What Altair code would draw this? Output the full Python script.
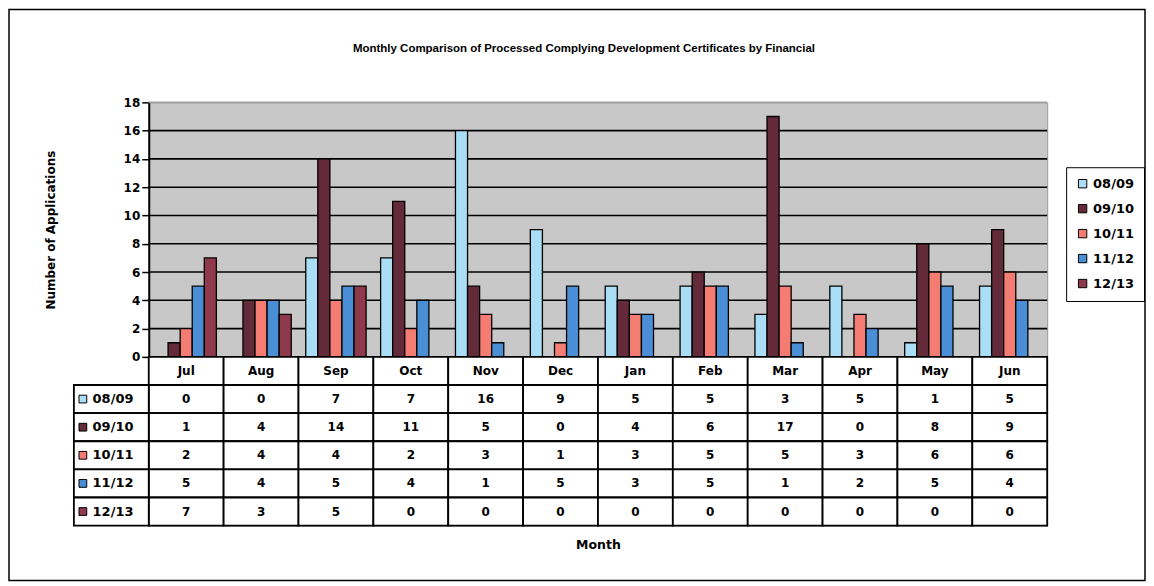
import altair as alt
import pandas as pd

months = ["Jul", "Aug", "Sep", "Oct", "Nov", "Dec", "Jan", "Feb", "Mar", "Apr", "May", "Jun"]
series = ["08/09", "09/10", "10/11", "11/12", "12/13"]
v0809 = [0, 0, 7, 7, 16, 9, 5, 5, 3, 5, 1, 5]
v0910 = [1, 4, 14, 11, 5, 0, 4, 6, 17, 0, 8, 9]
v1011 = [2, 4, 4, 2, 3, 1, 3, 5, 5, 3, 6, 6]
v1112 = [5, 4, 5, 4, 1, 5, 3, 5, 1, 2, 5, 4]
v1213 = [7, 3, 5, 0, 0, 0, 0, 0, 0, 0, 0, 0]
colors = ["#a9def6", "#632a3a", "#f47c72", "#4a8fd6", "#8e3a4c"]
grid_values = [2, 4, 6, 8, 10, 12, 14, 16, 18]
tick_values = [0, 2, 4, 6, 8, 10, 12, 14, 16, 18]

values = {"08/09": v0809, "09/10": v0910, "10/11": v1011, "11/12": v1112, "12/13": v1213}

FONT = "DejaVu Sans"
TITLE_FONT = "Liberation Sans"
LABEL_COL = "Series"

bars = pd.DataFrame([
    {"col": m, "series": s, "value": values[s][i]}
    for s in series for i, m in enumerate(months)
])
cells = pd.DataFrame(
    [{"col": m, "row": "hdr", "text": m} for m in months]
    + [{"col": m, "row": s, "text": str(values[s][i])} for s in series for i, m in enumerate(months)]
)
labels = pd.DataFrame([{"col": LABEL_COL, "row": s, "series": s, "text": s} for s in series])
grid = pd.DataFrame({"g": grid_values})

x_scale = alt.Scale(domain=[LABEL_COL] + months, range=[-75, 900], paddingInner=0, paddingOuter=0)
y_scale = alt.Scale(domain=[0, 18], range=[255, 0], nice=False)
row_scale = alt.Scale(domain=["hdr"] + series, range=[255, 424], paddingInner=0, paddingOuter=0)
color_scale = alt.Scale(domain=series, range=colors)

x_axis = alt.Axis(title="Month", labels=False, ticks=False, domain=False, grid=False,
                  titleX=450, titlePadding=13, titleFont=FONT, titleFontSize=12.5,
                  titleFontWeight="bold", titleColor="black")


def X(bp=None):
    if bp is None:
        return alt.X("col:N", scale=x_scale, axis=x_axis)
    return alt.X("col:N", scale=x_scale, axis=x_axis, bandPosition=bp)


grid_layer = alt.Chart(grid).mark_rule(strokeWidth=1.6).encode(
    y=alt.Y("g:Q", scale=y_scale, axis=None),
    x=alt.value(0), x2=alt.value(900),
    color=alt.condition(alt.datum.g == 18, alt.value("#a0a0a0"), alt.value("black")),
)

bar_layer = alt.Chart(bars).mark_bar(stroke="black", strokeWidth=1.3).encode(
    x=X(),
    xOffset=alt.XOffset("series:N", scale=alt.Scale(domain=series, paddingInner=0, paddingOuter=0.6)),
    y=alt.Y("value:Q", scale=y_scale,
            axis=alt.Axis(orient="left", values=tick_values, grid=False,
                          domainColor="black", domainWidth=2, tickColor="black",
                          tickSize=7, tickWidth=1.5, labelFont=FONT, labelFontSize=12, labelFontWeight="bold",
                          labelColor="black", labelPadding=2,
                          title="Number of Applications", titleFont=FONT, titleFontSize=12,
                          titleFontWeight="bold", titleColor="black", titlePadding=66)),
    color=alt.Color("series:N", scale=color_scale,
                    legend=alt.Legend(title=None, orient="none", legendX=919, legendY=65,
                                      strokeColor="black", padding=10, rowPadding=11,
                                      symbolType="square", symbolSize=70, symbolStrokeColor="black",
                                      symbolStrokeWidth=1, labelFont=FONT, labelFontSize=13,
                                      labelFontWeight="bold", labelColor="black")),
)

cell_rects = alt.Chart(cells).mark_rect(fill="white", stroke="black", strokeWidth=1.8).encode(
    x=X(),
    y=alt.Y("row:N", scale=row_scale, axis=None),
)
label_rects = alt.Chart(labels).mark_rect(fill="white", stroke="black", strokeWidth=1.8).encode(
    x=X(),
    y=alt.Y("row:N", scale=row_scale, axis=None),
)
cell_text = alt.Chart(cells).mark_text(font=FONT, fontSize=12, fontWeight="bold", color="black").encode(
    x=X(0.5),
    y=alt.Y("row:N", scale=row_scale, axis=None, bandPosition=0.5),
    text="text:N",
)
label_sq = alt.Chart(labels).mark_square(size=60, stroke="black", strokeWidth=1, opacity=1).encode(
    x=X(0.12),
    y=alt.Y("row:N", scale=row_scale, axis=None, bandPosition=0.5),
    color=alt.Color("series:N", scale=color_scale, legend=None),
)
label_text = alt.Chart(labels).mark_text(font=FONT, fontSize=13, fontWeight="bold", color="black",
                                         align="left").encode(
    x=X(0.25),
    y=alt.Y("row:N", scale=row_scale, axis=None, bandPosition=0.5),
    text="text:N",
)
frame = alt.Chart(alt.Data(values=[{"a": 1}])).mark_rect(filled=False, stroke="black", strokeWidth=1.5).encode(
    x=alt.value(-140), x2=alt.value(998), y=alt.value(-93), y2=alt.value(479)
)

chart = alt.layer(
    grid_layer, bar_layer, cell_rects, label_rects, cell_text, label_sq, label_text, frame
).resolve_scale(y="independent").properties(
    width=900, height=424, padding=0,
    title=alt.TitleParams("Monthly Comparison of Processed Complying Development Certificates by Financial",
                          font=TITLE_FONT, fontSize=11.5, fontWeight="bold", color="black",
                          anchor="middle", frame="group", dx=-14, offset=-46),
).configure_view(fill="#c8c8c8", stroke="#9a9a9a", strokeWidth=1)

chart.save("out.html", embed_options={"renderer": "svg", "actions": False})
